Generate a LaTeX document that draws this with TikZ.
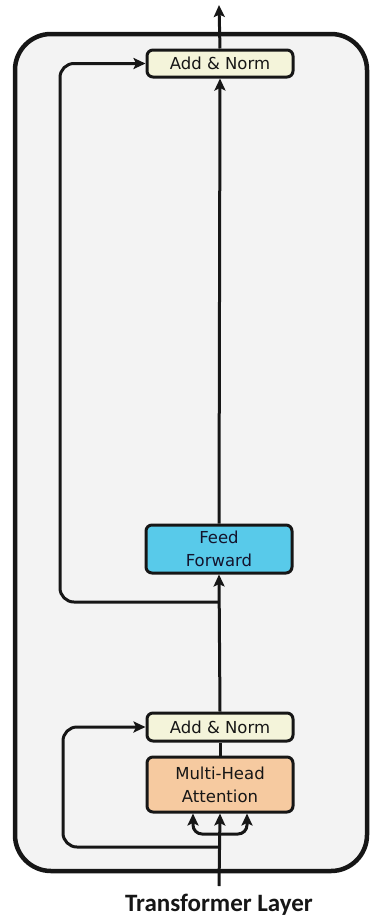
\documentclass[tikz,border=0pt]{standalone}
\usepackage{fontspec}
\usetikzlibrary{arrows.meta, positioning, calc}
\newfontfamily\boxfont{DejaVu Sans}
\newfontfamily\captionfont{Carlito}
\definecolor{NormFill}{RGB}{244,244,218}
\definecolor{FFNFill}{RGB}{88,202,234}
\definecolor{MHAFill}{RGB}{246,202,160}
\definecolor{LayerFill}{RGB}{243,243,243}
\definecolor{Ink}{RGB}{22,22,22}
\tikzset{
    block/.style={draw=Ink, line width=3pt, rounded corners=6pt, minimum width=146pt,
        align=center, font=\boxfont\fontsize{16.5pt}{23pt}\selectfont, text=Ink},
    flow/.style={draw=Ink, line width=3pt, -{Stealth[length=12pt,width=11pt,inset=2.5pt]}},
    wire/.style={draw=Ink, line width=3pt}
}

\begin{document}
\begin{tikzpicture}[x=1pt,y=-1pt]
        \useasboundingbox (0,0) rectangle (370,916);
        % layer frame
        \draw[Ink, line width=4.5pt, fill=LayerFill, rounded corners=36pt] (15,34) rectangle (367,871);

        % blocks
        \node[block, fill=NormFill, minimum height=27pt] (topnorm) at (220,63.5) {Add \& Norm};
        \node[block, fill=FFNFill, minimum height=48pt, text=Ink!90!blue] (ffn) at (219,549) {Feed\\Forward};
        \node[block, fill=NormFill, minimum height=28pt] (botnorm) at (220,727) {Add \& Norm};
        \node[block, fill=MHAFill, minimum height=55pt] (mha) at (220,784.5) {Multi-Head\\Attention};
        \node[font=\captionfont\bfseries\fontsize{25pt}{28pt}\selectfont, text=Ink, anchor=base] (caption) at (219,911) {Transformer Layer};

        % free ends and taps
        \coordinate (out) at (219,5);
        \coordinate (in) at (219,886);
        \coordinate (tapffn) at (219,602);
        \coordinate (bendffn) at (60,602);
        \coordinate (tapmha) at (219,847);
        \coordinate (bendmha) at (63,847);
        \coordinate (fork) at (219,834);

        % main path
        \draw[flow] (in) -- (mha.south);
        \draw[wire] (mha.north) -- (botnorm.south);
        \draw[flow] (botnorm.north) -- (ffn.south);
        \draw[flow] (ffn.north) -- (topnorm.south);
        \draw[flow] (topnorm.north) -- (out);

        % q, k, v split
        \foreach \dx in {-27,27}
            \draw[flow, rounded corners=9pt] (fork) -| ([xshift=\dx pt]mha.south);

        % residual connections
        \draw[flow, rounded corners=14pt] (tapmha) -- (bendmha) |- (botnorm.west);
        \draw[flow, rounded corners=14pt] (tapffn) -- (bendffn) |- (topnorm.west);
    \end{tikzpicture}
\end{document}
